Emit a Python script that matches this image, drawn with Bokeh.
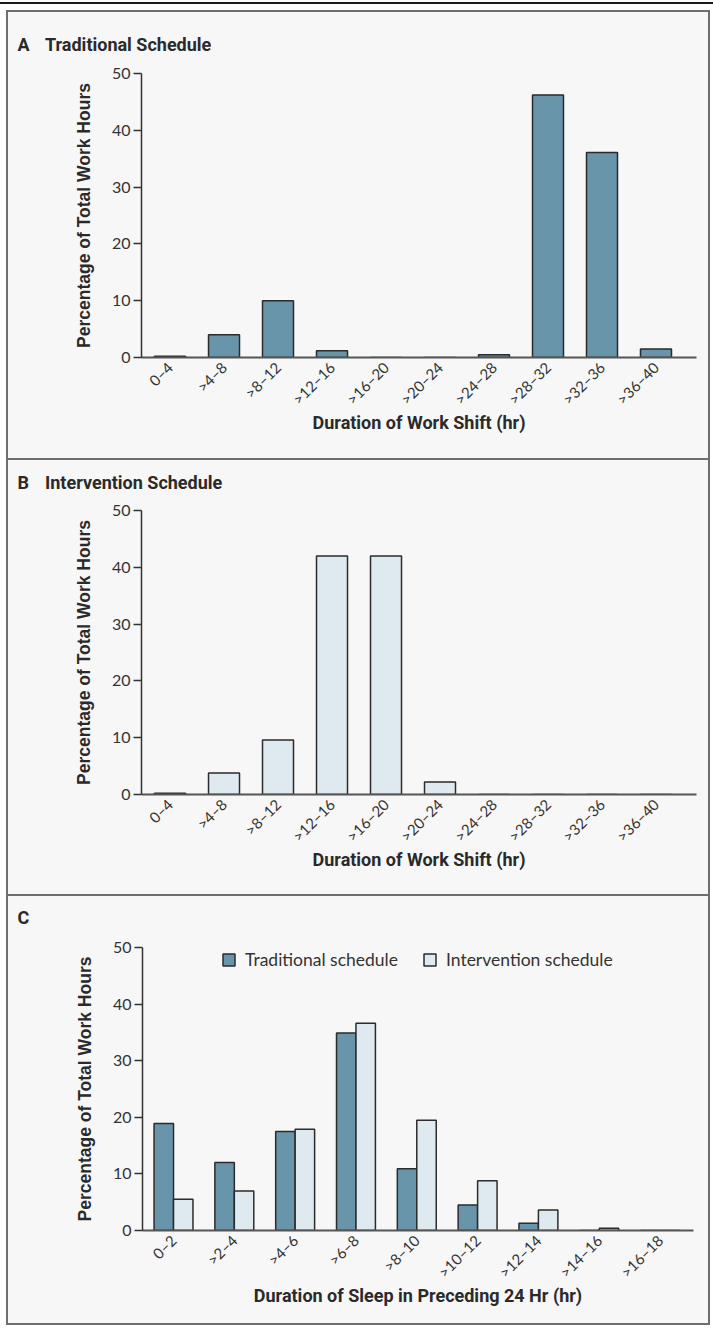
import math
from bokeh.plotting import figure
from bokeh.models import (FixedTicker, Legend, LegendItem, Range1d, Spacer,
                          ColumnDataSource)
from bokeh.core.properties import value
from bokeh.layouts import column
from bokeh.transform import dodge
from bokeh.embed import file_html
from bokeh.resources import INLINE

# ---------------- data ----------------
shift_labels = ["0–4", ">4–8", ">8–12", ">12–16", ">16–20", ">20–24",
                ">24–28", ">28–32", ">32–36", ">36–40"]
traditional_shift = [0.2, 4.0, 10.0, 1.2, 0.0, 0.0, 0.5, 46.2, 36.1, 1.5]
intervention_shift = [0.2, 3.8, 9.6, 42.0, 42.0, 2.2, 0.0, 0.0, 0.0, 0.0]

sleep_labels = ["0–2", ">2–4", ">4–6", ">6–8", ">8–10", ">10–12",
                ">12–14", ">14–16", ">16–18"]
sleep_traditional = [18.9, 12.0, 17.5, 34.9, 10.9, 4.5, 1.3, 0.0, 0.0]
sleep_intervention = [5.5, 7.0, 17.9, 36.6, 19.5, 8.8, 3.6, 0.4, 0.0]

y_ticks = [0, 10, 20, 30, 40, 50]

panel_letters = ["A", "B", "C"]
panel_names = ["Traditional Schedule", "Intervention Schedule", ""]

# ---------------- style ----------------
BG = "#f7f7f7"
DARK = "#6895aa"
LIGHT = "#dee9f0"
EDGE = "#2b2b2b"
BOX = "#6e6e6e"
TXT = "#2a2a2a"
COND = "Roboto"
TICKF = "Lato"
FIGW = 700


def header(letter, name, height, baseline):
    h = figure(width=FIGW, height=height, x_range=Range1d(0, FIGW),
               y_range=Range1d(height, 0), output_backend="svg",
               toolbar_location=None, min_border=0,
               x_axis_location=None, y_axis_location=None,
               background_fill_color=BG, border_fill_color=BG)
    h.frame_align = False
    h.grid.visible = False
    h.outline_line_color = None
    h.text(x=[9], y=[baseline], text=[letter], text_font=value(COND),
           text_font_style="bold", text_font_size="18px", text_color=TXT,
           text_baseline="alphabetic", text_align="left")
    if name:
        h.text(x=[36.5], y=[baseline], text=[name], text_font=value(COND),
               text_font_style="bold", text_font_size="18px", text_color=TXT,
               text_baseline="alphabetic", text_align="left")
    return h


def make_fig(labels, height, top, bottom, left, right, xr, xtitle):
    p = figure(width=FIGW, height=height, x_range=Range1d(*xr), y_range=Range1d(0, 50),
               output_backend="svg", toolbar_location=None,
               min_border_top=top, min_border_bottom=bottom,
               min_border_left=left, min_border_right=right,
               background_fill_color=BG, border_fill_color=BG)
    p.frame_align = False
    p.outline_line_color = None
    p.grid.visible = False
    # y axis
    ya = p.yaxis[0]
    ya.ticker = FixedTicker(ticks=y_ticks)
    ya.axis_line_color = "#333333"
    ya.axis_line_width = 1.5
    ya.major_tick_line_color = "#333333"
    ya.major_tick_line_width = 1.5
    ya.major_tick_out = 8
    ya.major_tick_in = 0
    ya.minor_tick_line_color = None
    ya.major_label_standoff = 3
    ya.major_label_text_font = TICKF
    ya.major_label_text_font_size = "16px"
    ya.major_label_text_color = "#333333"
    ya.axis_label = "Percentage of Total Work Hours"
    ya.axis_label_text_font = "Liberation Sans"
    ya.axis_label_text_font_style = "bold"
    ya.axis_label_text_font_size = "17.5px"
    ya.axis_label_text_color = TXT
    ya.axis_label_standoff = 15
    # x axis
    xa = p.xaxis[0]
    xa.ticker = FixedTicker(ticks=list(range(len(labels))))
    xa.major_label_overrides = {i: lab for i, lab in enumerate(labels)}
    xa.major_label_orientation = math.pi / 4
    xa.axis_line_color = "#555555"
    xa.axis_line_width = 2
    xa.major_tick_line_color = None
    xa.major_tick_out = 0
    xa.major_tick_in = 0
    xa.minor_tick_line_color = None
    xa.major_label_standoff = 7
    xa.major_label_text_font = TICKF
    xa.major_label_text_font_size = "15px"
    xa.major_label_text_color = "#333333"
    xa.axis_label = xtitle
    xa.axis_label_text_font = COND
    xa.axis_label_text_font_style = "bold"
    xa.axis_label_text_font_size = "18px"
    xa.axis_label_text_color = TXT
    xa.axis_label_standoff = -5
    return p


# ---------------- Panel A ----------------
hA = header(panel_letters[0], panel_names[0], 50, 32)
srcA = ColumnDataSource(dict(x=list(range(len(shift_labels))), top=traditional_shift))
pA = make_fig(shift_labels, 396, 11, 101, 133, 12, (-0.528, 9.75),
              "Duration of Work Shift (hr)")
pA.vbar(x="x", top="top", width=0.574, bottom=0, source=srcA,
        fill_color=DARK, line_color=EDGE, line_width=1.5)

# ---------------- Panel B ----------------
hB = header(panel_letters[1], panel_names[1], 40, 22)
srcB = ColumnDataSource(dict(x=list(range(len(shift_labels))), top=intervention_shift))
pB = make_fig(shift_labels, 394, 10, 100, 133, 12, (-0.528, 9.75),
              "Duration of Work Shift (hr)")
pB.vbar(x="x", top="top", width=0.574, bottom=0, source=srcB,
        fill_color=LIGHT, line_color=EDGE, line_width=1.5)

# ---------------- Panel C ----------------
hC = header(panel_letters[2], panel_names[2], 40, 21)
srcC = ColumnDataSource(dict(x=list(range(len(sleep_labels))),
                             trad=sleep_traditional, interv=sleep_intervention))
pC = make_fig(sleep_labels, 387, 11, 93, 134, 15, (-0.51, 8.55),
              "Duration of Sleep in Preceding 24 Hr (hr)")
r1 = pC.vbar(x=dodge("x", -0.16, range=pC.x_range), top="trad", width=0.32, bottom=0,
             source=srcC, fill_color=DARK, line_color=EDGE, line_width=1.5)
r2 = pC.vbar(x=dodge("x", 0.16, range=pC.x_range), top="interv", width=0.32, bottom=0,
             source=srcC, fill_color=LIGHT, line_color=EDGE, line_width=1.5)
leg = Legend(items=[LegendItem(label="Traditional schedule", renderers=[r1]),
                    LegendItem(label="Intervention schedule", renderers=[r2])],
             orientation="horizontal", location=(79, 260), padding=0, margin=0,
             spacing=24, label_standoff=9, glyph_width=15, glyph_height=15,
             border_line_color=None, background_fill_alpha=0,
             label_text_font=TICKF, label_text_font_size="17.5px",
             label_text_color="#333333")
pC.add_layout(leg, "center")

sep1 = Spacer(width=FIGW, height=2, styles={"background-color": BOX})
sep2 = Spacer(width=FIGW, height=2, styles={"background-color": BOX})
box = column(hA, pA, sep1, hB, pB, sep2, hC, pC, spacing=0,
             styles={"border": "2px solid " + BOX, "background-color": BG,
                     "margin-top": "10px", "margin-left": "6px",
                     "box-shadow": "0 2px 0 8px #ffffff, 0 0 0 8px #1a1a1a"})

open("out.html", "w").write(file_html(box, INLINE))
